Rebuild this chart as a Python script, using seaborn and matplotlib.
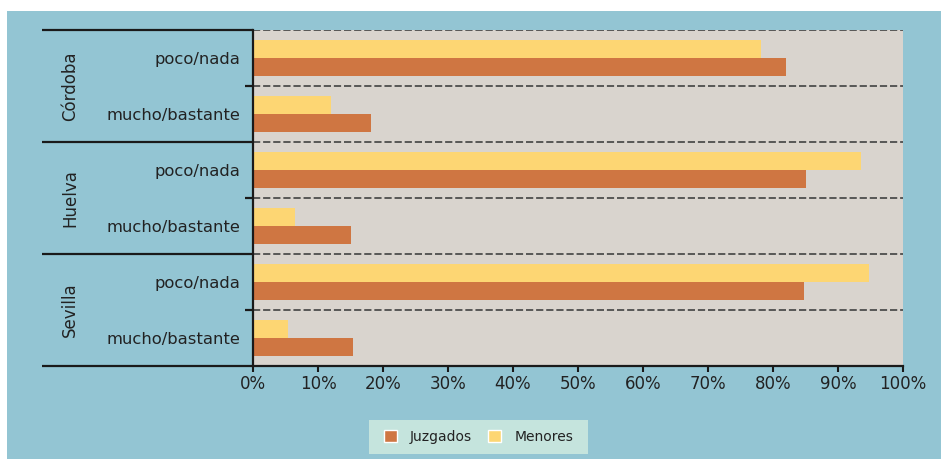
import pandas as pd
import matplotlib.pyplot as plt
import seaborn as sns
from matplotlib.patches import Patch, Rectangle
from matplotlib.ticker import FixedLocator

# Datos (%)
provincias = ["Córdoba", "Huelva", "Sevilla"]
respuestas = ["poco/nada", "mucho/bastante"]
juzgados = [82.0, 18.2, 85.1, 15.1, 84.8, 15.4]
menores = [78.2, 12.0, 93.5, 6.5, 94.8, 5.4]
xticks = list(range(0, 101, 10))

azul = "#93c5d3"
gris = "#d9d4ce"
naranja = "#cf7642"
amarillo = "#fdd673"
texto = "#222222"

filas = [f"{p}|{r}" for p in provincias for r in respuestas]
df = pd.DataFrame({
    "fila": filas * 2,
    "valor": menores + juzgados,
    "grupo": ["Menores"] * len(menores) + ["Juzgados"] * len(juzgados),
})

sns.set_style("white")
plt.rcParams["font.family"] = ["DejaVu Sans"]
plt.rcParams["text.color"] = texto

fig = plt.figure(figsize=(9.41, 4.59), dpi=100)
fig.patch.set_facecolor("white")
fig.patches.append(Rectangle((7 / 941, 0), 1, 1 - 11 / 459, transform=fig.transFigure,
                             facecolor=azul, edgecolor="none", zorder=-10))
# fondo de la leyenda
fig.patches.append(Rectangle((369 / 941, 1 - 454 / 459), 219 / 941, 34 / 459,
                             transform=fig.transFigure, facecolor="#c5e4dd",
                             edgecolor="none", zorder=-5))

ax = fig.add_axes([253 / 941, 1 - 366 / 459, 650 / 941, 336 / 459])
ax.set_facecolor(gris)

sns.barplot(data=df, x="valor", y="fila", hue="grupo", hue_order=["Menores", "Juzgados"],
            palette={"Menores": amarillo, "Juzgados": naranja}, order=filas,
            width=0.66, gap=0, saturation=1, legend=False, ax=ax, zorder=3,
            linewidth=0, edgecolor="none")

ax.set_xlim(0, 100)
ax.set_ylim(len(filas) - 0.5, -0.5)
ax.set_xlabel("")
ax.set_ylabel("")

# lineas discontinuas entre categorias
for i in range(len(filas)):
    ax.axhline(i - 0.5, color="#4d4d4d", ls=(0, (4, 1.6)), lw=1.3, zorder=2)

# lineas solidas de grupos a la izquierda
trans = ax.get_yaxis_transform()
for g in range(len(provincias) + 1):
    ax.plot([-0.325, 0], [g * 2 - 0.5] * 2, transform=trans, color="#1a1a1a",
            lw=1.6, clip_on=False, solid_capstyle="butt")
for g, p in enumerate(provincias):
    ax.text(-0.2815, g * 2 + 0.5, p, rotation=90, transform=trans,
            ha="center", va="center", fontsize=12, color=texto)

ax.set_yticks(range(len(filas)))
ax.set_yticklabels(respuestas * len(provincias), fontsize=11.8, color=texto)
ax.tick_params(axis="y", which="major", length=0, pad=9.4)
ax.yaxis.set_minor_locator(FixedLocator([g * 2 + 0.5 for g in range(len(provincias))]))
ax.tick_params(axis="y", which="minor", left=True, length=5.8, width=1.6, color="#1a1a1a")

ax.set_xticks(xticks)
ax.set_xticklabels([f"{v}%" for v in xticks], fontsize=12, color=texto)
ax.tick_params(axis="x", bottom=True, length=4.3, width=1.5, color="#1a1a1a", pad=2.5)

for s in ["top", "right"]:
    ax.spines[s].set_visible(False)
for s in ["left", "bottom"]:
    ax.spines[s].set_color("#1a1a1a")
    ax.spines[s].set_linewidth(1.6)
    ax.spines[s].set_zorder(5)

handles = [Patch(facecolor=naranja, label="Juzgados"), Patch(facecolor=amarillo, label="Menores")]
fig.legend(handles=handles, loc="center", bbox_to_anchor=(478.5 / 941, 1 - 437 / 459),
           ncol=2, fontsize=10, frameon=False, handlelength=0.95, handleheight=0.95,
           columnspacing=1.15, handletextpad=0.95, borderpad=0, borderaxespad=0)

fig.savefig("out.png", dpi=100)
